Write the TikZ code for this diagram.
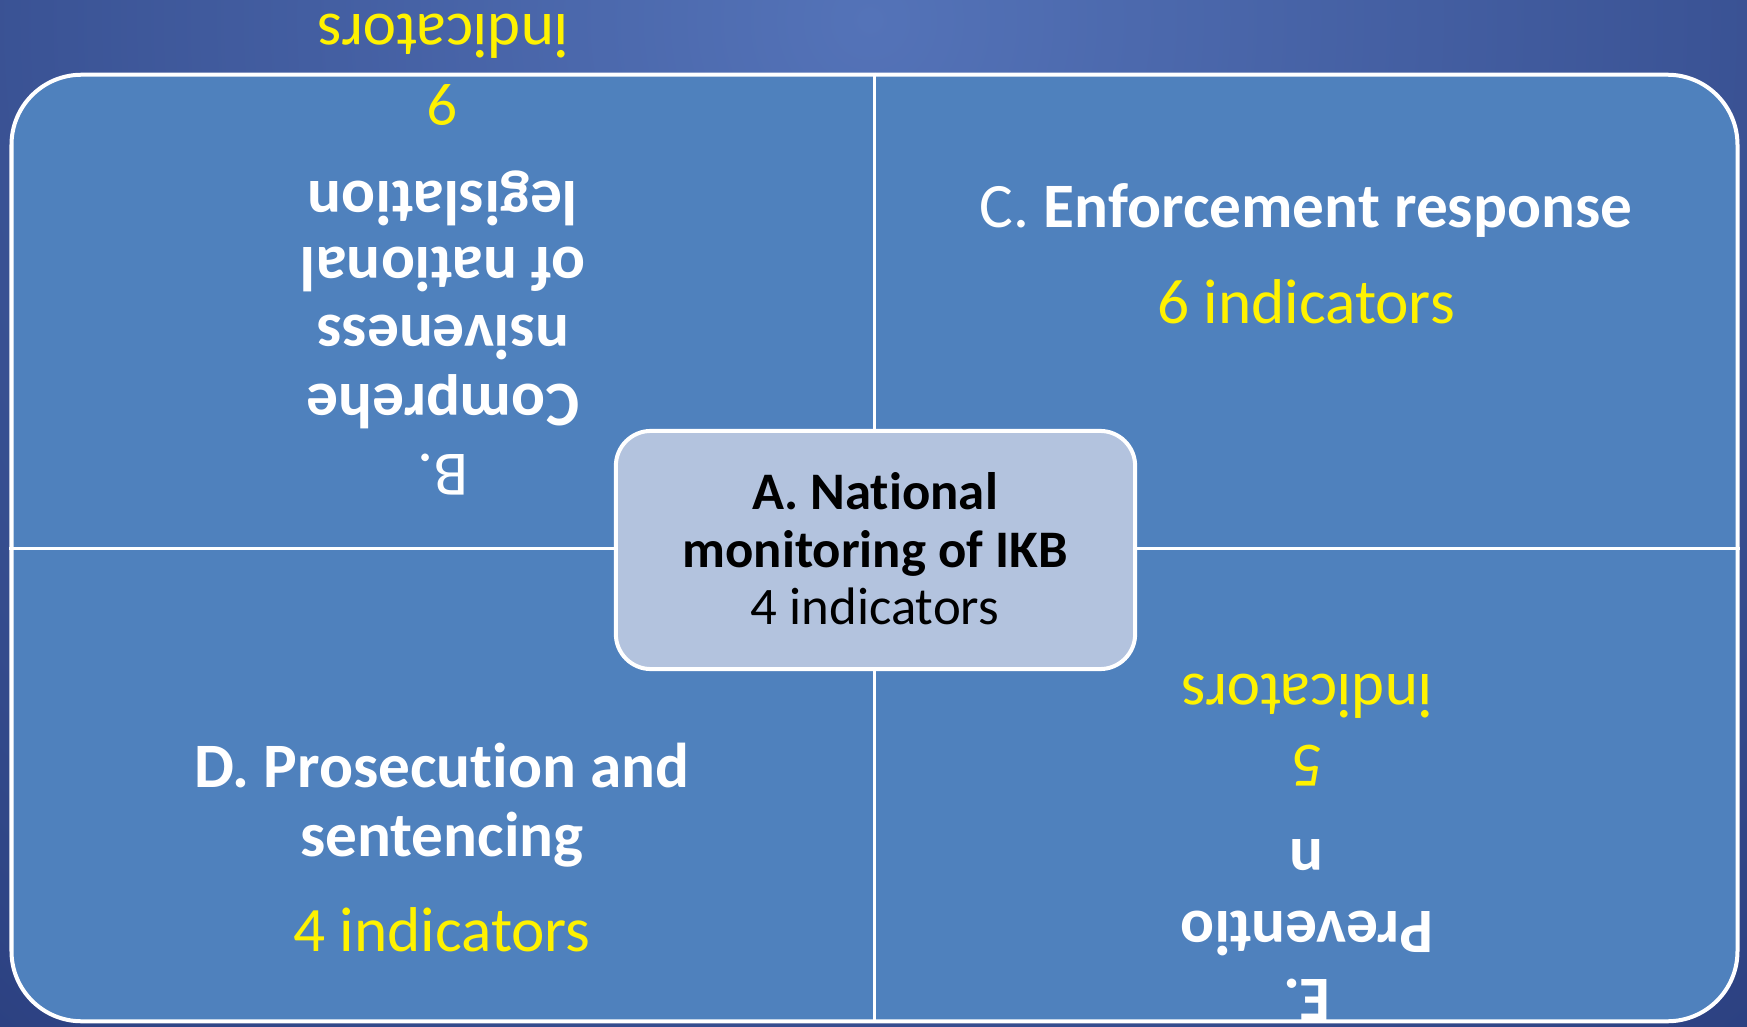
\documentclass[tikz,border=0pt]{standalone}
\usepackage{fontspec}
\setmainfont{Carlito}

\definecolor{bginner}{HTML}{5473B8}
\definecolor{bgouter}{HTML}{182866}
\definecolor{panelblue}{HTML}{4F81BD}
\definecolor{corefill}{HTML}{B3C3DE}

% break the t-i ligature of Carlito
\newcommand{\tisep}{\kern0pt }

\tikzset{
  panelbox/.style={rectangle, draw=white, line width=0.04cm, fill=panelblue,
    rounded corners=0.70cm, inner sep=0pt},
  corebox/.style={rectangle, draw=white, line width=0.04cm, fill=corefill,
    rounded corners=0.35cm, inner sep=0pt},
  divider/.style={draw=white, line width=0.03cm},
  bigtext/.style={font=\fontsize{18}{20}\selectfont, inner sep=0pt, text=white},
  counttext/.style={bigtext, text=yellow},
  coretext/.style={font=\fontsize{15}{17}\selectfont, inner sep=0pt, text=black},
  flipped/.style={rotate=180, anchor=center, text height=0.476cm, text depth=0.159cm}
}

\begin{document}
\begin{tikzpicture}[x=0.01cm, y=-0.01cm]
\useasboundingbox (0,0) rectangle (1747,1027);

% Background
\begin{scope}
  \clip (0,0) rectangle (1747,1027);
  \shade [inner color=bginner, outer color=bgouter] (870,20) circle (2000);
\end{scope}

% Outer panel
\node (panel) [panelbox, minimum width=17.25cm, minimum height=9.46cm] at (874.5,548) {};

% Dividers
\draw [divider] (panel.north) -- (panel.south);
\draw [divider] (panel.west) -- (panel.east);

% Centre box A
\node (core) [corebox, minimum width=5.19cm, minimum height=2.38cm] at (875.5,550) {};
\node (coreA) [coretext, anchor=base] at (875,509) {\bfseries A. Nat\tisep ional};
\node (coreB) [coretext, anchor=base] at (875,567) {\bfseries monitoring of IKB};
\node (coreC) [coretext, anchor=base] at (875,624) {4 indicators};

% Quadrant B (upside down)
\node (legB1) [bigtext, flipped] at (443,470) {B.};
\node (legB2) [bigtext, flipped] at (443,400) {\bfseries Comprehe};
\node (legB3) [bigtext, flipped] at (443,331) {\bfseries nsiveness};
\node (legB4) [bigtext, flipped] at (443,263) {\bfseries of nat\tisep ional};
\node (legB5) [bigtext, flipped] at (443,197) {\bfseries legislat\tisep ion};
\node (numB1) [counttext, flipped] at (443,100) {9};
\node (numB2) [counttext, flipped] at (443,30) {indicators};

% Quadrant C
\node (enfC) [bigtext, anchor=base] at (1306,228) {C. \bfseries Enforcement response};
\node (numC) [counttext, anchor=base] at (1306,323) {6 indicators};

% Quadrant D
\node (prosD1) [bigtext, anchor=base] at (442,787) {\bfseries D. Prosecut\tisep ion and};
\node (prosD2) [bigtext, anchor=base] at (442,856) {\bfseries sentencing};
\node (numD) [counttext, anchor=base] at (442,951) {4 indicators};

% Quadrant E (upside down)
\node (prevE1) [bigtext, flipped] at (1307,995) {\bfseries E.};
\node (prevE2) [bigtext, flipped] at (1307,927) {\bfseries Prevent\tisep io};
\node (prevE3) [bigtext, flipped] at (1307,855) {\bfseries n};
\node (numE1) [counttext, flipped] at (1307,761) {5};
\node (numE2) [counttext, flipped] at (1307,690) {indicators};
\end{tikzpicture}
\end{document}
